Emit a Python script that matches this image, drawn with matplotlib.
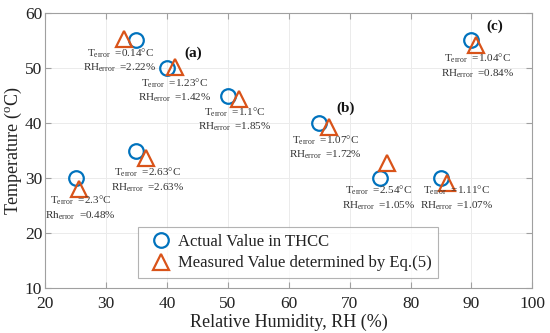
import matplotlib
matplotlib.use("Agg")
import matplotlib.pyplot as plt

plt.rcParams['font.family'] = ['Liberation Serif', 'DejaVu Serif']
plt.rcParams['mathtext.fontset'] = 'custom'
plt.rcParams['mathtext.rm'] = 'Liberation Serif'
plt.rcParams['mathtext.it'] = 'Liberation Serif:italic'
plt.rcParams['mathtext.bf'] = 'Liberation Serif:bold'

# Actual values (RH %, T °C)
actual_rh = [25, 35, 35, 40, 50, 65, 75, 85, 90]
actual_t = [30, 35, 55, 50, 45, 40, 30, 30, 55]
# Measured values determined by Eq.(5)
meas_rh = [25.5, 36.6, 33.0, 41.3, 51.8, 66.6, 76.1, 86.0, 90.8]
meas_t = [28.0, 33.6, 55.3, 50.1, 44.4, 39.3, 32.7, 29.1, 54.1]

# Error annotations
ann_rhname = ['Rh', 'RH', 'RH', 'RH', 'RH', 'RH', 'RH', 'RH', 'RH']
ann_terr = ['2.3', '2.63', '0.14', '1.23', '1.1', '1.07', '2.54', '1.11', '1.04']
ann_rherr = ['0.48', '2.63', '2.22', '1.42', '1.85', '1.72', '1.05', '1.07', '0.84']
ann_x = [25.8, 36.8, 32.3, 41.3, 51.1, 66.1, 74.8, 87.5, 91.0]
ann_y = [24.6, 29.7, 51.45, 46.0, 40.7, 35.6, 26.4, 26.4, 50.4]

panel_labels = ['(a)', '(b)', '(c)']
panel_x = [44.3, 69.3, 93.9]
panel_y = [52.7, 42.7, 57.6]

blue = '#0072BD'
orange = '#D95319'

fig = plt.figure(figsize=(5.5, 3.33), dpi=100)
ax = fig.add_axes([0.082, 0.135, 0.886, 0.826])

ax.plot(actual_rh, actual_t, linestyle='none', marker='o', markersize=10.5,
        markerfacecolor='none', markeredgecolor=blue, markeredgewidth=1.6,
        label='Actual Value in THCC', zorder=3)
ax.plot(meas_rh, meas_t, linestyle='none', marker='^', markersize=11.5,
        markerfacecolor='none', markeredgecolor=orange, markeredgewidth=1.6,
        label='Measured Value determined by Eq.(5)', zorder=3)

for x, y, rn, te, re in zip(ann_x, ann_y, ann_rhname, ann_terr, ann_rherr):
    s = (r'T$_{\rm error}$  =' + te + '°C\n' + rn + r'$_{\rm error}$  =' + re + '%')
    ax.text(x, y, s, ha='center', va='center', fontsize=8, color='#333333',
            linespacing=1.2, zorder=4)

for lab, x, y in zip(panel_labels, panel_x, panel_y):
    ax.text(x, y, lab, ha='center', va='center', fontsize=11, fontweight='bold',
            color='#111111')

ax.set_xlim(20, 100)
ax.set_ylim(10, 60)
ax.set_xticks(range(20, 101, 10))
ax.set_yticks(range(10, 61, 10))
ax.tick_params(axis='both', labelsize=12.5, direction='in', top=True, right=True,
               length=4, color='#a0a0a0', labelcolor='#222222')
ax.tick_params(axis='x', pad=6)
ax.tick_params(axis='y', pad=2)
ax.grid(True, color='#ebebeb', linewidth=0.7)
ax.set_axisbelow(True)
for sp in ax.spines.values():
    sp.set_color('#a0a0a0')
    sp.set_linewidth(0.8)

ax.set_xlabel('Relative Humidity, RH (%)', fontsize=13, labelpad=1, color='#222222')
ax.set_ylabel(r'Temperature ($^{\rm o}$C)', fontsize=13, labelpad=1, color='#222222')

leg = ax.legend(loc='lower left', bbox_to_anchor=(0.19, 0.036), fontsize=12,
                frameon=True, fancybox=False, edgecolor='#a0a0a0',
                handlelength=2.0, handletextpad=0.0, borderpad=0.4,
                labelspacing=0.35, borderaxespad=0)
leg.get_frame().set_linewidth(0.8)
for t in leg.get_texts():
    t.set_color('#222222')

fig.savefig('out.png', dpi=100)
